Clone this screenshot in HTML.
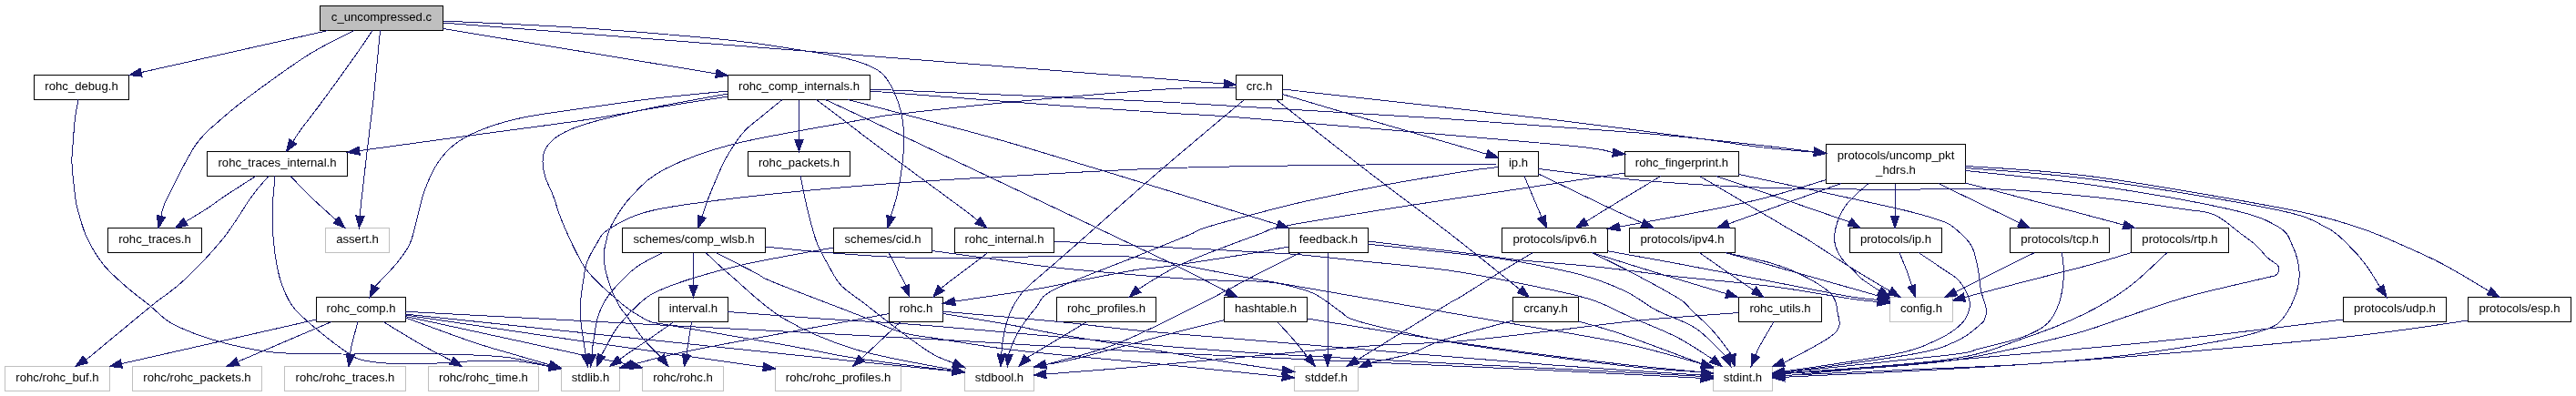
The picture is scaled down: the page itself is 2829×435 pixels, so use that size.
<!DOCTYPE html><html><head><meta charset="utf-8"><title>c_uncompressed.c include graph</title>
<style>html,body{margin:0;padding:0;background:#fff}svg{display:block;will-change:transform;opacity:0.999}text{font-family:"Liberation Sans",sans-serif;font-size:13.15px;fill:#000}</style></head><body>
<svg width="2829" height="435" viewBox="0 0 2829 435">
<g shape-rendering="crispEdges">
<rect x="351.5" y="6.5" width="135.0" height="27.0" fill="#bfbfbf" stroke="#000" stroke-width="1"/>
<rect x="37.5" y="82.5" width="104.0" height="27.0" fill="#fff" stroke="#000" stroke-width="1"/>
<rect x="799.5" y="82.5" width="156.0" height="27.0" fill="#fff" stroke="#000" stroke-width="1"/>
<rect x="1357.5" y="82.5" width="51.0" height="27.0" fill="#fff" stroke="#000" stroke-width="1"/>
<rect x="227.5" y="166.5" width="154.0" height="27.0" fill="#fff" stroke="#000" stroke-width="1"/>
<rect x="821.5" y="166.5" width="112.0" height="27.0" fill="#fff" stroke="#000" stroke-width="1"/>
<rect x="1645.5" y="166.5" width="44.0" height="27.0" fill="#fff" stroke="#000" stroke-width="1"/>
<rect x="1784.5" y="166.5" width="125.0" height="27.0" fill="#fff" stroke="#000" stroke-width="1"/>
<rect x="2005.5" y="158.5" width="153.0" height="43.0" fill="#fff" stroke="#000" stroke-width="1"/>
<rect x="118.5" y="250.5" width="103.0" height="27.0" fill="#fff" stroke="#000" stroke-width="1"/>
<rect x="357.5" y="250.5" width="70.0" height="27.0" fill="#fff" stroke="#bfbfbf" stroke-width="1"/>
<rect x="683.5" y="250.5" width="157.0" height="27.0" fill="#fff" stroke="#000" stroke-width="1"/>
<rect x="915.5" y="250.5" width="108.0" height="27.0" fill="#fff" stroke="#000" stroke-width="1"/>
<rect x="1048.5" y="250.5" width="109.0" height="27.0" fill="#fff" stroke="#000" stroke-width="1"/>
<rect x="1415.5" y="250.5" width="87.0" height="27.0" fill="#fff" stroke="#000" stroke-width="1"/>
<rect x="1649.5" y="250.5" width="116.0" height="27.0" fill="#fff" stroke="#000" stroke-width="1"/>
<rect x="1789.5" y="250.5" width="116.0" height="27.0" fill="#fff" stroke="#000" stroke-width="1"/>
<rect x="2031.5" y="250.5" width="101.0" height="27.0" fill="#fff" stroke="#000" stroke-width="1"/>
<rect x="2207.5" y="250.5" width="109.0" height="27.0" fill="#fff" stroke="#000" stroke-width="1"/>
<rect x="2340.5" y="250.5" width="107.0" height="27.0" fill="#fff" stroke="#000" stroke-width="1"/>
<rect x="347.5" y="326.5" width="98.0" height="27.0" fill="#fff" stroke="#000" stroke-width="1"/>
<rect x="723.5" y="326.5" width="76.0" height="27.0" fill="#fff" stroke="#000" stroke-width="1"/>
<rect x="976.5" y="326.5" width="59.0" height="27.0" fill="#fff" stroke="#000" stroke-width="1"/>
<rect x="1160.5" y="326.5" width="109.0" height="27.0" fill="#fff" stroke="#000" stroke-width="1"/>
<rect x="1344.5" y="326.5" width="91.0" height="27.0" fill="#fff" stroke="#000" stroke-width="1"/>
<rect x="1661.5" y="326.5" width="72.0" height="27.0" fill="#fff" stroke="#000" stroke-width="1"/>
<rect x="1909.5" y="326.5" width="91.0" height="27.0" fill="#fff" stroke="#000" stroke-width="1"/>
<rect x="2075.5" y="326.5" width="69.0" height="27.0" fill="#fff" stroke="#bfbfbf" stroke-width="1"/>
<rect x="2573.5" y="326.5" width="113.0" height="27.0" fill="#fff" stroke="#000" stroke-width="1"/>
<rect x="2710.5" y="326.5" width="113.0" height="27.0" fill="#fff" stroke="#000" stroke-width="1"/>
<rect x="5.5" y="402.5" width="115.0" height="27.0" fill="#fff" stroke="#bfbfbf" stroke-width="1"/>
<rect x="145.5" y="402.5" width="142.0" height="27.0" fill="#fff" stroke="#bfbfbf" stroke-width="1"/>
<rect x="312.5" y="402.5" width="133.0" height="27.0" fill="#fff" stroke="#bfbfbf" stroke-width="1"/>
<rect x="470.5" y="402.5" width="121.0" height="27.0" fill="#fff" stroke="#bfbfbf" stroke-width="1"/>
<rect x="616.5" y="402.5" width="64.0" height="27.0" fill="#fff" stroke="#bfbfbf" stroke-width="1"/>
<rect x="705.5" y="402.5" width="89.0" height="27.0" fill="#fff" stroke="#bfbfbf" stroke-width="1"/>
<rect x="851.5" y="402.5" width="138.0" height="27.0" fill="#fff" stroke="#bfbfbf" stroke-width="1"/>
<rect x="1059.5" y="402.5" width="76.0" height="27.0" fill="#fff" stroke="#bfbfbf" stroke-width="1"/>
<rect x="1421.5" y="402.5" width="70.0" height="27.0" fill="#fff" stroke="#bfbfbf" stroke-width="1"/>
<rect x="1881.5" y="402.5" width="65.0" height="27.0" fill="#fff" stroke="#bfbfbf" stroke-width="1"/>
</g>
<g text-anchor="middle">
<text x="419.0" y="22.5">c_uncompressed.c</text>
<text x="89.5" y="98.5">rohc_debug.h</text>
<text x="877.5" y="98.5">rohc_comp_internals.h</text>
<text x="1383.0" y="98.5">crc.h</text>
<text x="304.5" y="182.5">rohc_traces_internal.h</text>
<text x="877.5" y="182.5">rohc_packets.h</text>
<text x="1667.5" y="182.5">ip.h</text>
<text x="1847.0" y="182.5">rohc_fingerprint.h</text>
<text x="2082.0" y="174.5">protocols/uncomp_pkt</text>
<text x="2082.0" y="190.5">_hdrs.h</text>
<text x="170.0" y="266.5">rohc_traces.h</text>
<text x="392.5" y="266.5">assert.h</text>
<text x="762.0" y="266.5">schemes/comp_wlsb.h</text>
<text x="969.5" y="266.5">schemes/cid.h</text>
<text x="1103.0" y="266.5">rohc_internal.h</text>
<text x="1459.0" y="266.5">feedback.h</text>
<text x="1707.5" y="266.5">protocols/ipv6.h</text>
<text x="1847.5" y="266.5">protocols/ipv4.h</text>
<text x="2082.0" y="266.5">protocols/ip.h</text>
<text x="2262.0" y="266.5">protocols/tcp.h</text>
<text x="2394.0" y="266.5">protocols/rtp.h</text>
<text x="396.5" y="342.5">rohc_comp.h</text>
<text x="761.5" y="342.5">interval.h</text>
<text x="1006.0" y="342.5">rohc.h</text>
<text x="1215.0" y="342.5">rohc_profiles.h</text>
<text x="1390.0" y="342.5">hashtable.h</text>
<text x="1697.5" y="342.5">crcany.h</text>
<text x="1955.0" y="342.5">rohc_utils.h</text>
<text x="2110.0" y="342.5">config.h</text>
<text x="2630.0" y="342.5">protocols/udp.h</text>
<text x="2767.0" y="342.5">protocols/esp.h</text>
<text x="63.0" y="418.5">rohc/rohc_buf.h</text>
<text x="216.5" y="418.5">rohc/rohc_packets.h</text>
<text x="379.0" y="418.5">rohc/rohc_traces.h</text>
<text x="531.0" y="418.5">rohc/rohc_time.h</text>
<text x="648.5" y="418.5">stdlib.h</text>
<text x="750.0" y="418.5">rohc/rohc.h</text>
<text x="920.5" y="418.5">rohc/rohc_profiles.h</text>
<text x="1097.5" y="418.5">stdbool.h</text>
<text x="1456.5" y="418.5">stddef.h</text>
<text x="1914.0" y="418.5">stdint.h</text>
</g>
<g fill="none" stroke="#191970" stroke-width="1" shape-rendering="crispEdges">
<path d="M360.50,33.50 L154.98,79.59"/>
<path d="M389.00,33.50 C380.67,37.92 358.00,48.08 339.00,60.00 C320.00,71.92 290.83,93.33 275.00,105.00 C259.17,116.67 254.00,121.00 244.00,130.00 C234.00,139.00 224.83,144.83 215.00,159.00 C205.17,173.17 191.00,203.33 185.00,215.00 C179.00,226.67 180.33,225.24 179.00,229.00 C177.67,232.76 177.34,236.12 177.01,237.55"/>
<path d="M409.00,33.50 C406.00,37.92 400.00,47.25 391.00,60.00 C382.00,72.75 365.17,96.17 355.00,110.00 C344.83,123.83 335.53,135.43 330.00,143.00 C324.47,150.57 323.19,153.33 321.82,155.40"/>
<path d="M417.50,33.50 C417.08,37.92 416.25,47.25 415.00,60.00 C413.75,72.75 411.25,98.33 410.00,110.00 C408.75,121.67 408.50,121.83 407.50,130.00 C406.50,138.17 405.67,144.83 404.00,159.00 C402.33,173.17 398.83,203.33 397.50,215.00 C396.17,226.67 396.35,225.29 396.00,229.00 C395.65,232.71 395.52,235.86 395.43,237.23"/>
<path d="M486.50,31.50 L786.38,80.84"/>
<path d="M486.50,23.00 C512.75,24.33 591.75,27.50 644.00,31.00 C696.25,34.50 762.50,40.25 800.00,44.00 C837.50,47.75 849.00,50.50 869.00,53.50 C889.00,56.50 906.25,59.08 920.00,62.00 C933.75,64.92 943.33,67.83 951.50,71.00 C959.67,74.17 964.00,76.17 969.00,81.00 C974.00,85.83 978.00,92.67 981.50,100.00 C985.00,107.33 988.12,115.83 990.00,125.00 C991.88,134.17 992.75,144.58 992.75,155.00 C992.75,165.42 991.29,177.50 990.00,187.50 C988.71,197.50 986.83,207.08 985.00,215.00 C983.17,222.92 980.11,231.23 979.00,235.00 C977.89,238.77 978.44,237.18 978.32,237.62"/>
<path d="M486.50,25.00 L1344.24,91.96"/>
<path d="M86.00,109.50 C85.42,112.92 83.50,121.75 82.50,130.00 C81.50,138.25 80.58,150.67 80.00,159.00 C79.42,167.33 78.58,170.67 79.00,180.00 C79.42,189.33 81.50,206.83 82.50,215.00 C83.50,223.17 82.92,221.50 85.00,229.00 C87.08,236.50 90.33,249.83 95.00,260.00 C99.67,270.17 105.92,281.00 113.00,290.00 C120.08,299.00 128.83,306.33 137.50,314.00 C146.17,321.67 156.25,329.00 165.00,336.00 C173.75,343.00 177.50,349.50 190.00,356.00 C202.50,362.50 221.67,369.83 240.00,375.00 C258.33,380.17 277.50,384.67 300.00,387.00 C322.50,389.33 350.33,388.75 375.00,389.00 C399.67,389.25 423.83,388.33 448.00,388.50 C472.17,388.67 501.25,389.25 520.00,390.00 C538.75,390.75 546.58,390.96 560.50,393.00 C574.42,395.04 596.33,400.68 603.50,402.21"/>
<path d="M799.50,106.00 C786.25,108.08 745.92,114.25 720.00,118.50 C694.08,122.75 676.83,126.58 644.00,131.50 C611.17,136.42 564.56,142.32 523.00,148.00 C481.44,153.68 416.05,162.63 394.66,165.55"/>
<path d="M799.50,100.00 C786.25,101.33 745.92,104.92 720.00,108.00 C694.08,111.08 668.17,115.00 644.00,118.50 C619.83,122.00 594.00,125.08 575.00,129.00 C556.00,132.92 542.50,137.17 530.00,142.00 C517.50,146.83 508.33,151.67 500.00,158.00 C491.67,164.33 485.67,171.33 480.00,180.00 C474.33,188.67 469.67,200.00 466.00,210.00 C462.33,220.00 460.67,230.33 458.00,240.00 C455.33,249.67 453.83,259.67 450.00,268.00 C446.17,276.33 441.25,282.33 435.00,290.00 C428.75,297.67 416.31,309.88 412.50,314.00 C408.69,318.12 412.20,314.58 412.14,314.70"/>
<path d="M859.00,109.50 C854.83,112.92 840.67,124.50 834.00,130.00 C827.33,135.50 823.58,137.71 819.00,142.50 C814.42,147.29 810.67,152.50 806.50,158.75 C802.33,165.00 798.58,170.62 794.00,180.00 C789.42,189.38 782.33,206.83 779.00,215.00 C775.67,223.17 775.35,225.18 774.00,229.00 C772.65,232.82 771.40,236.45 770.88,237.94"/>
<path d="M877.50,109.50 L877.50,153.20"/>
<path d="M896.50,109.50 C901.50,113.25 915.67,123.79 926.50,132.00 C937.33,140.21 939.83,142.62 961.50,158.75 C983.17,174.88 1037.82,214.83 1056.50,228.75 C1075.18,242.67 1070.72,240.00 1073.57,242.25"/>
<path d="M906.50,109.50 C914.00,113.00 934.00,122.29 951.50,130.50 C969.00,138.71 977.33,142.58 1011.50,158.75 C1045.67,174.92 1110.42,205.62 1156.50,227.50 C1202.58,249.38 1256.22,274.51 1288.00,290.00 C1319.78,305.49 1337.31,315.35 1347.17,320.42"/>
<path d="M931.50,109.50 C944.83,113.00 980.67,122.25 1011.50,130.50 C1042.33,138.75 1070.42,145.58 1116.50,159.00 C1162.58,172.42 1240.28,196.41 1288.00,211.00 C1335.72,225.59 1383.66,240.64 1402.80,246.56"/>
<path d="M955.50,100.00 C990.25,102.67 1108.58,111.92 1164.00,116.00 C1219.42,120.08 1253.17,122.17 1288.00,124.50 C1322.83,126.83 1302.58,124.29 1373.00,130.00 C1443.42,135.71 1644.11,152.49 1710.50,158.75 C1776.89,165.01 1761.20,166.11 1771.34,167.59"/>
<path d="M955.50,98.00 C1010.92,100.42 1183.83,107.17 1288.00,112.50 C1392.17,117.83 1495.17,124.42 1580.50,130.00 C1665.83,135.58 1741.42,141.08 1800.00,146.00 C1858.58,150.92 1899.95,156.02 1932.00,159.50 C1964.05,162.98 1982.25,165.65 1992.30,166.88"/>
<path d="M1408.50,98.00 C1455.92,103.33 1619.42,121.33 1693.00,130.00 C1766.58,138.67 1810.17,144.75 1850.00,150.00 C1889.83,155.25 1908.29,158.63 1932.00,161.50 C1955.71,164.37 1982.22,166.28 1992.26,167.24"/>
<path d="M1408.50,103.50 C1423.42,107.92 1466.62,120.79 1498.00,130.00 C1529.38,139.21 1574.29,152.21 1596.75,158.75 C1619.21,165.29 1626.74,167.52 1632.73,169.27"/>
<path d="M1357.50,96.50 C1345.92,96.67 1327.75,95.04 1288.00,97.50 C1248.25,99.96 1168.83,106.67 1119.00,111.25 C1069.17,115.83 1017.17,121.71 989.00,125.00 C960.83,128.29 980.00,125.58 950.00,131.00 C920.00,136.42 845.42,148.50 809.00,157.50 C772.58,166.50 750.67,175.42 731.50,185.00 C712.33,194.58 704.00,204.58 694.00,215.00 C684.00,225.42 676.40,238.33 671.50,247.50 C666.60,256.67 666.02,264.58 664.60,270.00 C663.18,275.42 663.00,275.83 663.00,280.00 C663.00,284.17 663.65,290.00 664.60,295.00 C665.55,300.00 667.35,305.67 668.70,310.00 C670.05,314.33 670.68,316.45 672.70,321.00 C674.72,325.55 678.15,332.88 680.80,337.30 C683.45,341.72 684.40,341.75 688.60,347.50 C692.80,353.25 699.82,364.36 706.00,371.80 C712.18,379.24 722.41,388.73 725.69,392.11"/>
<path d="M1645.50,180.00 C1621.25,180.17 1559.58,180.25 1500.00,181.00 C1440.42,181.75 1354.67,182.33 1288.00,184.50 C1221.33,186.67 1154.67,190.92 1100.00,194.00 C1045.33,197.08 1006.33,199.33 960.00,203.00 C913.67,206.67 862.42,211.33 822.00,216.00 C781.58,220.67 743.00,225.08 717.50,231.00 C692.00,236.92 679.58,245.00 669.00,251.50 C658.42,258.00 658.10,263.75 654.00,270.00 C649.90,276.25 646.67,282.33 644.40,289.00 C642.13,295.67 641.48,303.50 640.40,310.00 C639.32,316.50 638.40,321.67 637.90,328.00 C637.40,334.33 636.88,340.00 637.40,348.00 C637.92,356.00 640.02,369.10 641.00,376.00 C641.98,382.90 642.89,387.16 643.27,389.39"/>
<path d="M879.00,193.50 C880.25,199.38 883.58,216.83 886.50,228.75 C889.42,240.67 892.75,254.79 896.50,265.00 C900.25,275.21 904.42,281.88 909.00,290.00 C913.58,298.12 916.92,306.25 924.00,313.75 C931.08,321.25 940.50,326.46 951.50,335.00 C962.50,343.54 977.92,356.04 990.00,365.00 C1002.08,373.96 1014.45,383.12 1024.00,388.75 C1033.55,394.38 1043.40,397.08 1047.28,398.75"/>
<path d="M281.00,193.50 C275.42,197.08 256.42,209.08 247.50,215.00 C238.58,220.92 234.78,224.24 227.50,229.00 C220.22,233.76 207.78,241.12 203.83,243.54"/>
<path d="M295.00,193.50 C292.00,197.08 285.33,203.58 277.00,215.00 C268.67,226.42 257.53,246.50 245.00,262.00 C232.47,277.50 215.13,295.50 201.80,308.00 C188.47,320.50 181.55,323.54 165.00,337.00 C148.45,350.46 114.36,379.11 102.50,388.75 C90.64,398.39 95.31,393.82 93.87,394.84"/>
<path d="M302.00,193.50 C301.54,199.42 299.58,217.92 299.25,229.00 C298.92,240.08 299.25,249.83 300.00,260.00 C300.75,270.17 302.08,281.04 303.75,290.00 C305.42,298.96 306.88,305.75 310.00,313.75 C313.12,321.75 315.83,329.71 322.50,338.00 C329.17,346.29 340.00,355.17 350.00,363.50 C360.00,371.83 374.17,382.58 382.50,388.00 C390.83,393.42 390.83,394.04 400.00,396.00 C409.17,397.96 424.17,399.25 437.50,399.75 C450.83,400.25 465.42,399.54 480.00,399.00 C494.58,398.46 510.00,396.83 525.00,396.50 C540.00,396.17 556.93,395.96 570.00,397.00 C583.07,398.04 597.83,401.79 603.39,402.74"/>
<path d="M319.00,193.50 C322.50,197.08 334.00,209.08 340.00,215.00 C346.00,220.92 350.15,224.56 355.00,229.00 C359.85,233.44 366.74,239.52 369.09,241.63"/>
<path d="M347.50,351.00 C329.17,355.17 273.17,367.91 237.50,376.00 C201.83,384.09 150.81,395.64 133.47,399.56"/>
<path d="M364.00,353.50 L261.24,397.29"/>
<path d="M393.00,353.50 C391.83,357.92 387.37,374.03 386.00,380.00 C384.63,385.97 384.96,387.76 384.76,389.32"/>
<path d="M421.00,353.50 C427.92,357.67 450.04,371.38 462.50,378.50 C474.96,385.62 490.22,393.28 495.76,396.24"/>
<path d="M445.50,349.00 C457.72,353.43 498.05,368.60 518.80,375.60 C539.55,382.60 555.85,386.80 570.00,391.00 C584.15,395.20 598.11,399.16 603.73,400.79"/>
<path d="M445.50,347.60 C466.97,352.27 541.88,368.53 574.30,375.60 C606.72,382.67 620.55,385.85 640.00,390.00 C659.45,394.15 682.24,398.69 691.00,400.50 C699.76,402.31 692.31,400.82 692.57,400.88"/>
<path d="M445.50,346.10 C478.75,351.02 579.53,366.10 645.00,375.60 C710.47,385.10 806.11,398.54 838.33,403.13"/>
<path d="M445.50,345.10 C487.92,349.57 617.58,363.25 700.00,371.90 C782.42,380.55 882.29,391.04 940.00,397.00 C997.71,402.96 1028.56,405.89 1046.27,407.67"/>
<path d="M445.50,342.30 C487.92,344.53 602.58,350.58 700.00,355.70 C797.42,360.82 932.00,367.62 1030.00,373.00 C1128.00,378.38 1176.33,382.38 1288.00,388.00 C1399.67,393.62 1603.30,402.15 1700.00,406.70 C1796.70,411.25 1840.18,413.88 1868.22,415.32"/>
<path d="M799.50,103.00 C784.58,105.78 735.92,114.20 710.00,119.70 C684.08,125.20 659.83,131.28 644.00,136.00 C628.17,140.72 622.33,143.67 615.00,148.00 C607.67,152.33 603.17,157.17 600.00,162.00 C596.83,166.83 596.17,171.50 596.00,177.00 C595.83,182.50 597.08,188.67 599.00,195.00 C600.92,201.33 604.67,207.50 607.50,215.00 C610.33,222.50 612.37,230.83 616.00,240.00 C619.63,249.17 624.90,260.97 629.30,270.00 C633.70,279.03 638.20,287.87 642.40,294.20 C646.60,300.53 649.45,302.87 654.50,308.00 C659.55,313.13 666.62,319.67 672.70,325.00 C678.78,330.33 685.95,336.27 691.00,340.00 C696.05,343.73 699.00,345.13 703.00,347.40 C707.00,349.67 709.50,351.93 715.00,353.60 C720.50,355.27 711.83,353.23 736.00,357.40 C760.17,361.57 826.00,372.58 860.00,378.60 C894.00,384.62 908.95,388.72 940.00,393.50 C971.05,398.28 1028.59,404.99 1046.31,407.29"/>
<path d="M727.80,277.50 C723.33,279.92 708.50,286.92 701.00,292.00 C693.50,297.08 688.68,301.97 682.80,308.00 C676.92,314.03 670.07,321.53 665.70,328.20 C661.33,334.87 658.97,340.03 656.60,348.00 C654.23,355.97 652.60,369.12 651.50,376.00 C650.40,382.88 650.25,387.07 650.00,389.28"/>
<path d="M761.50,277.50 L761.50,313.20"/>
<path d="M775.00,277.50 C779.80,281.88 789.53,291.73 803.80,303.80 C818.07,315.87 837.90,336.53 860.60,349.90 C883.30,363.27 909.02,374.60 940.00,384.00 C970.98,393.40 1028.73,402.56 1046.48,406.28"/>
<path d="M786.00,277.50 C793.38,281.25 819.72,294.58 830.30,300.00 C840.88,305.42 829.93,302.00 849.50,310.00 C869.07,318.00 924.28,338.83 947.70,348.00 C971.12,357.17 976.28,361.00 990.00,365.00 C1003.72,369.00 1008.33,368.62 1030.00,372.00 C1051.67,375.38 1079.42,380.63 1120.00,385.30 C1160.58,389.97 1225.46,395.27 1273.50,400.00 C1321.54,404.73 1385.81,411.38 1408.27,413.66"/>
<path d="M840.50,271.00 C852.83,272.17 884.58,275.87 914.50,278.00 C944.42,280.13 979.75,283.22 1020.00,283.80 C1060.25,284.38 1120.67,281.88 1156.00,281.50 C1191.33,281.12 1211.83,280.58 1232.00,281.50 C1252.17,282.42 1261.83,284.58 1277.00,287.00 C1292.17,289.42 1304.17,292.42 1323.00,296.00 C1341.83,299.58 1360.33,303.20 1390.00,308.50 C1419.67,313.80 1459.33,320.55 1501.00,327.80 C1542.67,335.05 1593.50,343.88 1640.00,352.00 C1686.50,360.12 1741.89,368.56 1780.00,376.50 C1818.11,384.44 1853.86,395.78 1868.63,399.64"/>
<path d="M915.50,272.00 C906.25,273.67 877.25,278.72 860.00,282.00 C842.75,285.28 829.75,287.37 812.00,291.70 C794.25,296.03 769.50,302.78 753.50,308.00 C737.50,313.22 725.75,317.62 716.00,323.00 C706.25,328.38 699.68,336.13 695.00,340.30 C690.32,344.47 691.10,344.27 687.90,348.00 C684.70,351.73 680.37,355.66 675.80,362.70 C671.23,369.74 663.04,385.66 660.49,390.26"/>
<path d="M976.00,277.50 C977.50,280.42 982.17,289.58 985.00,295.00 C987.83,300.42 991.42,306.83 993.00,310.00 C994.58,313.17 994.21,313.33 994.45,314.00"/>
<path d="M1023.50,275.50 C1033.75,276.88 1062.92,280.78 1085.00,283.80 C1107.08,286.82 1129.00,290.57 1156.00,293.60 C1183.00,296.63 1219.17,299.68 1247.00,302.00 C1274.83,304.32 1299.17,306.25 1323.00,307.50 C1346.83,308.75 1373.83,308.25 1390.00,309.50 C1406.17,310.75 1410.75,312.62 1420.00,315.00 C1429.25,317.38 1436.67,319.13 1445.50,323.80 C1454.33,328.47 1466.08,338.38 1473.00,343.00 C1479.92,347.62 1475.37,347.77 1487.00,351.50 C1498.63,355.23 1521.97,360.82 1542.80,365.40 C1563.63,369.98 1572.47,372.98 1612.00,379.00 C1651.53,385.02 1737.29,396.52 1780.00,401.50 C1822.71,406.48 1853.54,407.66 1868.25,408.89"/>
<path d="M1085.00,277.50 L1033.44,316.48"/>
<path d="M1157.50,265.00 C1172.42,265.83 1217.67,268.47 1247.00,270.00 C1276.33,271.53 1310.67,273.00 1333.50,274.20 C1356.33,275.40 1368.50,276.28 1384.00,277.20 C1399.50,278.12 1408.83,278.18 1426.50,279.70 C1444.17,281.22 1461.75,283.28 1490.00,286.30 C1518.25,289.32 1560.67,292.52 1596.00,297.80 C1631.33,303.08 1676.33,312.63 1702.00,318.00 C1727.67,323.37 1735.33,325.00 1750.00,330.00 C1764.67,335.00 1774.77,341.28 1790.00,348.00 C1805.23,354.72 1826.40,362.63 1841.40,370.30 C1856.40,377.97 1873.49,389.99 1880.00,394.00 C1886.51,398.01 1880.40,394.31 1880.48,394.37"/>
<path d="M1415.50,271.00 C1409.75,272.03 1395.17,274.82 1381.00,277.20 C1366.83,279.58 1347.33,282.70 1330.50,285.30 C1313.67,287.90 1293.92,290.92 1280.00,292.80 C1266.08,294.68 1262.55,294.07 1247.00,296.60 C1231.45,299.13 1205.08,304.47 1186.70,308.00 C1168.32,311.53 1159.72,313.95 1136.70,317.80 C1113.68,321.65 1063.26,328.87 1048.58,331.08"/>
<path d="M1428.50,277.50 C1421.58,280.92 1406.70,287.92 1387.00,298.00 C1367.30,308.08 1336.97,324.77 1310.30,338.00 C1283.63,351.23 1252.25,367.43 1227.00,377.40 C1201.75,387.37 1171.89,394.02 1158.80,397.80 C1145.71,401.58 1150.20,399.72 1148.48,400.10"/>
<path d="M1458.00,277.50 L1458.00,389.20"/>
<path d="M1502.50,265.00 C1522.50,267.42 1595.13,276.08 1622.50,279.50 C1649.87,282.92 1644.62,283.20 1666.70,285.50 C1688.78,287.80 1725.55,290.22 1755.00,293.30 C1784.45,296.38 1811.73,300.47 1843.40,304.00 C1875.07,307.53 1913.90,310.53 1945.00,314.50 C1976.10,318.47 2010.45,324.97 2030.00,327.80 C2049.55,330.63 2056.91,330.87 2062.29,331.49"/>
<path d="M1502.50,268.20 C1522.50,270.33 1595.13,277.83 1622.50,281.00 C1649.87,284.17 1647.57,283.67 1666.70,287.20 C1685.83,290.73 1717.58,296.73 1737.30,302.20 C1757.02,307.67 1771.30,313.53 1785.00,320.00 C1798.70,326.47 1806.73,334.30 1819.50,341.00 C1832.27,347.70 1849.02,351.93 1861.60,360.20 C1874.18,368.47 1889.41,385.57 1894.97,390.64"/>
<path d="M740.00,353.50 C735.83,356.42 723.50,365.12 715.00,371.00 C706.50,376.88 694.74,384.79 689.00,388.75 C683.26,392.71 681.94,393.78 680.53,394.78"/>
<path d="M759.50,353.50 C758.58,359.38 754.94,382.76 754.00,388.75 C753.06,394.74 753.90,389.30 753.88,389.41"/>
<path d="M799.50,342.50 C816.42,343.75 862.58,347.33 901.00,350.00 C939.42,352.67 965.50,353.33 1030.00,358.50 C1094.50,363.67 1223.00,375.70 1288.00,381.00 C1353.00,386.30 1351.33,386.37 1420.00,390.30 C1488.67,394.23 1625.30,400.76 1700.00,404.60 C1774.70,408.44 1840.18,411.86 1868.22,413.31"/>
<path d="M976.50,344.50 C972.33,345.28 970.92,345.62 951.50,349.20 C932.08,352.78 892.92,359.87 860.00,366.00 C827.08,372.13 781.67,380.25 754.00,386.00 C726.33,391.75 704.10,398.06 694.00,400.50 C683.90,402.94 693.48,400.64 693.37,400.66"/>
<path d="M989.00,353.50 C982.75,359.38 958.62,382.08 951.50,388.75 C944.38,395.42 947.17,392.72 946.30,393.51"/>
<path d="M1035.50,342.20 C1056.30,344.03 1123.38,349.60 1160.30,353.20 C1197.22,356.80 1213.72,359.77 1257.00,363.80 C1300.28,367.83 1346.17,371.27 1420.00,377.40 C1493.83,383.53 1625.29,394.82 1700.00,400.60 C1774.71,406.38 1840.19,410.18 1868.23,412.09"/>
<path d="M1035.50,344.50 C1047.22,346.45 1085.05,352.48 1105.80,356.20 C1126.55,359.92 1139.80,363.17 1160.00,366.80 C1180.20,370.43 1205.73,374.47 1227.00,378.00 C1248.27,381.53 1267.43,384.70 1287.60,388.00 C1307.77,391.30 1327.88,394.70 1348.00,397.80 C1368.12,400.90 1398.28,405.12 1408.34,406.58"/>
<path d="M1193.60,353.50 L1128.12,392.81"/>
<path d="M1344.50,351.60 C1335.02,354.00 1314.77,358.93 1287.60,366.00 C1260.43,373.07 1204.67,388.26 1181.50,394.00 C1158.33,399.74 1154.04,399.37 1148.55,400.45"/>
<path d="M1402.70,353.50 C1405.63,356.72 1414.75,366.35 1420.30,372.80 C1425.85,379.25 1433.40,388.94 1436.02,392.17"/>
<path d="M1435.50,350.00 C1460.25,353.97 1541.92,367.34 1584.00,373.80 C1626.08,380.26 1655.33,384.38 1688.00,388.75 C1720.67,393.12 1749.96,396.68 1780.00,400.00 C1810.04,403.32 1853.55,407.25 1868.26,408.70"/>
<path d="M1366.50,109.50 C1350.98,122.58 1302.15,163.25 1273.40,188.00 C1244.65,212.75 1213.30,241.00 1194.00,258.00 C1174.70,275.00 1168.93,280.03 1157.60,290.00 C1146.27,299.97 1133.63,309.80 1126.00,317.80 C1118.37,325.80 1115.47,330.97 1111.80,338.00 C1108.13,345.03 1105.88,353.00 1104.00,360.00 C1102.12,367.00 1101.19,375.13 1100.50,380.00 C1099.81,384.87 1099.99,387.69 1099.88,389.23"/>
<path d="M1401.50,109.50 C1418.20,122.58 1469.62,163.25 1501.70,188.00 C1533.78,212.75 1566.08,236.32 1594.00,258.00 C1621.92,279.68 1656.67,308.06 1669.21,318.08"/>
<path d="M1661.50,352.00 C1648.58,355.63 1602.92,367.68 1584.00,373.80 C1565.08,379.93 1561.20,384.64 1548.00,388.75 C1534.80,392.86 1512.00,396.82 1504.80,398.44"/>
<path d="M1733.50,353.00 C1741.25,355.30 1757.43,359.03 1780.00,366.80 C1802.57,374.57 1854.11,394.17 1868.93,399.64"/>
<path d="M1674.00,193.50 C1676.00,198.25 1682.81,214.53 1686.00,222.00 C1689.19,229.47 1691.96,235.60 1693.16,238.32"/>
<path d="M1689.50,191.00 C1702.17,197.08 1746.43,218.50 1765.50,227.50 C1784.57,236.50 1797.50,242.07 1803.90,244.99"/>
<path d="M1645.50,183.50 C1639.72,184.25 1631.38,184.75 1610.80,188.00 C1590.22,191.25 1551.63,197.45 1522.00,203.00 C1492.37,208.55 1457.93,215.72 1433.00,221.30 C1408.07,226.88 1390.90,231.62 1372.40,236.50 C1353.90,241.38 1333.07,247.02 1322.00,250.60 C1310.93,254.18 1318.50,252.77 1306.00,258.00 C1293.50,263.23 1271.67,272.00 1247.00,282.00 C1222.33,292.00 1176.23,308.67 1158.00,318.00 C1139.77,327.33 1144.28,330.12 1137.60,338.00 C1130.92,345.88 1122.91,356.76 1117.90,365.30 C1112.89,373.84 1109.28,385.25 1107.56,389.24"/>
<path d="M1689.50,185.50 C1707.92,187.58 1759.58,194.58 1800.00,198.00 C1840.42,201.42 1885.88,204.28 1932.00,206.00 C1978.12,207.72 2034.53,208.05 2076.70,208.30 C2118.87,208.55 2147.78,206.13 2185.00,207.50 C2222.22,208.87 2264.25,212.75 2300.00,216.50 C2335.75,220.25 2377.50,226.75 2399.50,230.00 C2421.50,233.25 2421.58,231.42 2432.00,236.00 C2442.42,240.58 2454.28,251.83 2462.00,257.50 C2469.72,263.17 2473.72,265.83 2478.30,270.00 C2482.88,274.17 2485.68,278.95 2489.50,282.50 C2493.32,286.05 2498.98,288.88 2501.20,291.30 C2503.42,293.72 2503.17,295.13 2502.80,297.00 C2502.43,298.87 2502.00,301.00 2499.00,302.50 C2496.00,304.00 2500.85,302.12 2484.80,306.00 C2468.75,309.88 2427.33,318.93 2402.70,325.80 C2378.07,332.67 2358.88,340.08 2337.00,347.20 C2315.12,354.32 2304.23,360.30 2271.40,368.50 C2238.57,376.70 2191.95,389.39 2140.00,396.40 C2088.05,403.41 1989.77,408.18 1959.72,410.53"/>
<path d="M1784.50,190.00 C1762.15,193.37 1689.48,204.30 1650.40,210.20 C1611.32,216.10 1589.27,219.17 1550.00,225.40 C1510.73,231.63 1443.03,242.17 1414.80,247.60 C1386.57,253.03 1400.23,250.83 1380.60,258.00 C1360.97,265.17 1318.76,280.64 1297.00,290.60 C1275.24,300.56 1257.86,313.24 1250.03,317.77"/>
<path d="M1823.80,193.50 C1814.08,199.38 1779.17,220.42 1765.50,228.75 C1751.83,237.08 1745.75,241.03 1741.80,243.48"/>
<path d="M1866.70,193.50 C1882.92,203.08 1944.55,239.58 1964.00,251.00 C1983.45,262.42 1971.40,254.50 1983.40,262.00 C1995.40,269.50 2020.64,286.39 2036.00,296.00 C2051.36,305.61 2068.99,315.73 2075.59,319.67"/>
<path d="M1885.00,193.50 L2031.28,243.85"/>
<path d="M1909.50,191.50 C1937.37,197.50 2039.95,219.08 2076.70,227.50 C2113.45,235.92 2118.33,238.12 2130.00,242.00 C2141.67,245.88 2140.87,246.13 2146.70,250.80 C2152.53,255.47 2160.72,262.47 2165.00,270.00 C2169.28,277.53 2170.65,287.88 2172.40,296.00 C2174.15,304.12 2173.98,311.37 2175.50,318.70 C2177.02,326.03 2180.75,334.95 2181.50,340.00 C2182.25,345.05 2181.00,346.37 2180.00,349.00 C2179.00,351.63 2180.50,351.63 2175.50,355.80 C2170.50,359.97 2162.25,368.51 2150.00,374.00 C2137.75,379.49 2133.72,382.91 2102.00,388.75 C2070.28,394.59 1983.38,405.67 1959.66,409.05"/>
<path d="M2005.50,197.50 C1993.25,201.08 1957.92,212.58 1932.00,219.00 C1906.08,225.42 1875.57,230.98 1850.00,236.00 C1824.43,241.02 1790.48,246.92 1778.58,249.10"/>
<path d="M2022.00,201.50 C2007.00,206.88 1952.66,226.33 1932.00,233.75 C1911.34,241.17 1903.68,243.95 1898.01,245.99"/>
<path d="M2052.00,201.50 C2048.33,204.92 2035.58,215.25 2030.00,222.00 C2024.42,228.75 2021.05,234.90 2018.50,242.00 C2015.95,249.10 2014.12,257.77 2014.70,264.60 C2015.28,271.43 2018.45,277.52 2022.00,283.00 C2025.55,288.48 2032.17,293.57 2036.00,297.50 C2039.83,301.43 2040.30,302.93 2045.00,306.60 C2049.70,310.27 2060.99,317.35 2064.19,319.50"/>
<path d="M2081.00,201.50 L2081.00,237.20"/>
<path d="M2128.70,201.50 L2217.64,244.69"/>
<path d="M2158.50,201.00 C2178.05,206.17 2246.86,224.32 2275.80,232.00 C2304.74,239.68 2322.76,244.55 2332.15,247.06"/>
<path d="M2158.50,182.40 C2182.08,184.37 2240.92,186.27 2300.00,194.20 C2359.08,202.13 2464.67,220.70 2513.00,230.00 C2561.33,239.30 2569.25,243.50 2590.00,250.00 C2610.75,256.50 2622.08,262.33 2637.50,269.00 C2652.92,275.67 2666.50,281.53 2682.50,290.00 C2698.50,298.47 2725.01,314.83 2733.52,319.79"/>
<path d="M2158.50,184.50 C2182.08,186.63 2243.42,189.72 2300.00,197.30 C2356.58,204.88 2455.50,221.22 2498.00,230.00 C2540.50,238.78 2541.54,243.50 2555.00,250.00 C2568.46,256.50 2571.67,262.33 2578.75,269.00 C2585.83,275.67 2591.66,282.28 2597.50,290.00 C2603.34,297.72 2611.08,311.10 2613.80,315.32"/>
<path d="M2158.50,187.40 C2182.08,190.10 2251.58,196.50 2300.00,203.60 C2348.42,210.70 2415.25,222.35 2449.00,230.00 C2482.75,237.65 2491.05,242.83 2502.50,249.50 C2513.95,256.17 2513.97,262.20 2517.70,270.00 C2521.43,277.80 2524.08,288.08 2524.90,296.30 C2525.72,304.52 2525.45,310.55 2522.60,319.30 C2519.75,328.05 2513.55,341.68 2507.80,348.80 C2502.05,355.92 2500.13,357.63 2488.10,362.00 C2476.07,366.37 2460.78,370.33 2435.60,375.00 C2410.42,379.67 2370.93,385.88 2337.00,390.00 C2303.07,394.12 2271.50,397.03 2232.00,399.70 C2192.50,402.37 2145.37,403.88 2100.00,406.00 C2054.63,408.12 1983.16,411.33 1959.79,412.39"/>
<path d="M1683.50,277.50 C1676.87,281.47 1657.40,292.92 1643.70,301.30 C1630.00,309.68 1610.79,322.02 1601.30,327.80 C1591.81,333.58 1605.25,324.71 1586.75,336.00 C1568.25,347.29 1506.40,385.61 1490.33,395.53"/>
<path d="M1748.00,277.50 C1760.30,281.32 1797.14,292.87 1821.80,300.40 C1846.46,307.93 1883.60,318.96 1895.96,322.67"/>
<path d="M1765.50,275.70 C1778.48,278.05 1813.48,284.22 1843.40,289.80 C1873.32,295.38 1913.90,303.25 1945.00,309.20 C1976.10,315.15 2010.45,322.13 2030.00,325.50 C2049.55,328.87 2056.91,328.75 2062.30,329.40"/>
<path d="M1748.00,277.50 C1755.07,281.02 1774.50,290.22 1790.40,298.60 C1806.30,306.98 1832.13,320.73 1843.40,327.80 C1854.67,334.87 1851.60,334.93 1858.00,341.00 C1864.40,347.07 1874.52,356.10 1881.80,364.20 C1889.08,372.30 1898.38,385.38 1901.70,389.62"/>
<path d="M1866.30,277.50 C1871.32,281.02 1886.44,291.69 1896.40,298.60 C1906.36,305.51 1921.10,315.57 1926.04,318.97"/>
<path d="M1894.60,277.50 C1903.00,279.85 1922.43,285.23 1945.00,291.60 C1967.57,297.97 2010.38,310.14 2030.00,315.70 C2049.62,321.26 2057.25,323.43 2062.70,324.97"/>
<path d="M1894.60,277.50 C1903.00,279.42 1930.87,284.85 1945.00,289.00 C1959.13,293.15 1968.57,296.90 1979.40,302.40 C1990.23,307.90 2003.60,315.43 2010.00,322.00 C2016.40,328.57 2016.97,334.47 2017.80,341.80 C2018.63,349.13 2024.20,356.87 2015.00,366.00 C2005.80,375.13 1971.94,391.27 1962.60,396.60 C1953.26,401.93 1959.57,397.73 1958.96,397.96"/>
<path d="M1909.50,343.50 C1891.25,344.92 1834.92,348.58 1800.00,352.00 C1765.08,355.42 1733.33,360.17 1700.00,364.00 C1666.67,367.83 1631.67,372.40 1600.00,375.00 C1568.33,377.60 1545.22,377.10 1510.00,379.60 C1474.78,382.10 1431.37,386.17 1388.70,390.00 C1346.03,393.83 1293.99,399.10 1254.00,402.60 C1214.01,406.10 1166.30,409.61 1148.76,411.02"/>
<path d="M1948.00,353.50 C1945.33,358.08 1935.31,374.88 1932.00,381.00 C1928.69,387.12 1928.78,388.69 1928.14,390.23"/>
<path d="M2086.00,277.50 C2087.50,281.25 2092.75,293.94 2095.00,300.00 C2097.25,306.06 2098.75,311.54 2099.49,313.85"/>
<path d="M2107.00,277.50 C2111.58,280.58 2127.17,290.92 2134.50,296.00 C2141.83,301.08 2146.45,302.95 2151.00,308.00 C2155.55,313.05 2159.87,320.97 2161.80,326.30 C2163.73,331.63 2163.90,335.08 2162.60,340.00 C2161.30,344.92 2159.43,350.47 2154.00,355.80 C2148.57,361.13 2142.00,366.51 2130.00,372.00 C2118.00,377.49 2110.39,382.74 2082.00,388.75 C2053.61,394.76 1980.05,404.83 1959.66,408.05"/>
<path d="M2234.50,277.50 C2228.20,280.58 2211.14,288.83 2196.70,296.00 C2182.26,303.17 2156.02,316.44 2147.88,320.53"/>
<path d="M2264.50,277.50 C2264.82,281.72 2266.90,293.65 2266.40,302.80 C2265.90,311.95 2264.50,323.63 2261.50,332.40 C2258.50,341.17 2254.98,349.13 2248.40,355.40 C2241.82,361.67 2234.60,365.35 2222.00,370.00 C2209.40,374.65 2186.47,379.97 2172.80,383.30 C2159.13,386.63 2175.52,385.71 2140.00,390.00 C2104.48,394.29 1989.71,405.88 1959.66,409.05"/>
<path d="M2340.50,277.50 C2333.25,279.67 2316.25,285.25 2297.00,290.50 C2277.75,295.75 2248.27,302.98 2225.00,309.00 C2201.73,315.02 2168.64,323.70 2157.37,326.64"/>
<path d="M2380.00,277.50 C2372.83,283.92 2352.37,304.67 2337.00,316.00 C2321.63,327.33 2306.97,336.20 2287.80,345.50 C2268.63,354.80 2246.63,363.58 2222.00,371.80 C2197.37,380.02 2183.72,388.42 2140.00,394.80 C2096.28,401.18 1989.71,407.51 1959.66,410.05"/>
<path d="M2573.50,351.00 C2539.58,355.00 2442.25,367.50 2370.00,375.00 C2297.75,382.50 2208.38,389.71 2140.00,396.00 C2071.62,402.29 1989.79,409.97 1959.74,412.77"/>
<path d="M2710.50,352.00 C2685.42,355.30 2639.75,363.85 2560.00,371.80 C2480.25,379.75 2332.04,392.62 2232.00,399.70 C2131.96,406.78 2005.15,411.86 1959.78,414.29"/>
</g>
<g fill="#191970" stroke="#191970" stroke-width="1" shape-rendering="crispEdges">
<polygon points="142.00,82.50 153.95,75.00 156.01,84.18"/>
<polygon points="174.00,250.50 172.43,236.48 181.59,238.61"/>
<polygon points="314.50,166.50 317.90,152.81 325.75,157.99"/>
<polygon points="394.50,250.50 390.74,236.91 400.11,237.56"/>
<polygon points="799.50,83.00 785.61,85.48 787.14,76.20"/>
<polygon points="975.00,250.50 973.77,236.45 982.87,238.80"/>
<polygon points="1357.50,93.00 1343.87,96.65 1344.61,87.28"/>
<polygon points="616.50,405.00 602.51,406.81 604.48,397.62"/>
<polygon points="381.50,167.50 393.97,160.90 395.35,170.20"/>
<polygon points="406.00,326.50 407.97,312.53 416.31,316.87"/>
<polygon points="766.50,250.50 766.44,236.39 775.32,239.49"/>
<polygon points="877.50,166.50 872.80,153.20 882.20,153.20"/>
<polygon points="1084.00,250.50 1070.65,245.94 1076.48,238.56"/>
<polygon points="1359.00,326.50 1345.02,324.60 1349.32,316.24"/>
<polygon points="1415.50,250.50 1401.40,251.05 1404.19,242.07"/>
<polygon points="1784.50,169.50 1770.66,172.24 1772.01,162.94"/>
<polygon points="2005.50,168.50 1991.73,171.55 1992.87,162.22"/>
<polygon points="2005.50,168.50 1991.81,171.92 1992.71,162.56"/>
<polygon points="1645.50,173.00 1631.42,173.78 1634.05,164.76"/>
<polygon points="734.00,402.50 722.02,395.05 729.36,389.18"/>
<polygon points="645.50,402.50 638.64,390.17 647.91,388.60"/>
<polygon points="1059.50,404.00 1045.42,403.07 1049.13,394.43"/>
<polygon points="192.50,250.50 201.37,239.53 206.29,247.54"/>
<polygon points="83.00,402.50 91.16,390.99 96.58,398.68"/>
<polygon points="616.50,405.00 602.60,407.38 604.19,398.11"/>
<polygon points="379.00,250.50 365.96,245.13 372.23,238.12"/>
<polygon points="120.50,402.50 132.43,394.98 134.51,404.15"/>
<polygon points="249.00,402.50 259.39,392.96 263.08,401.61"/>
<polygon points="383.00,402.50 380.10,388.70 389.42,389.94"/>
<polygon points="507.50,402.50 493.55,400.39 497.98,392.09"/>
<polygon points="616.50,404.50 602.42,405.31 605.04,396.28"/>
<polygon points="705.50,404.00 691.47,405.45 693.67,396.31"/>
<polygon points="851.50,405.00 837.67,407.78 839.00,398.47"/>
<polygon points="1059.50,409.00 1045.80,412.35 1046.74,402.99"/>
<polygon points="1881.50,416.00 1867.98,420.01 1868.46,410.63"/>
<polygon points="1059.50,409.00 1045.71,411.95 1046.92,402.63"/>
<polygon points="648.50,402.50 645.33,388.76 654.67,389.81"/>
<polygon points="761.50,326.50 756.80,313.20 766.20,313.20"/>
<polygon points="1059.50,409.00 1045.52,410.88 1047.44,401.68"/>
<polygon points="1421.50,415.00 1407.79,418.33 1408.74,408.98"/>
<polygon points="1881.50,403.00 1867.44,404.19 1869.82,395.09"/>
<polygon points="655.30,402.50 656.16,388.42 664.82,392.09"/>
<polygon points="999.00,326.50 990.04,315.61 998.87,312.39"/>
<polygon points="1881.50,410.00 1867.85,413.57 1868.64,404.21"/>
<polygon points="1024.70,326.50 1029.90,313.39 1036.99,319.57"/>
<polygon points="1891.00,402.50 1877.60,398.09 1883.35,390.65"/>
<polygon points="1035.50,333.50 1047.72,326.46 1049.43,335.70"/>
<polygon points="1135.50,403.00 1147.46,395.52 1149.50,404.69"/>
<polygon points="1458.00,402.50 1453.30,389.20 1462.70,389.20"/>
<polygon points="2075.50,333.00 2061.75,336.16 2062.82,326.82"/>
<polygon points="1901.00,402.50 1890.78,392.77 1899.16,388.51"/>
<polygon points="669.70,402.50 677.81,390.95 683.26,398.61"/>
<polygon points="751.50,402.50 749.25,388.57 758.50,390.26"/>
<polygon points="1881.50,414.00 1867.97,418.01 1868.46,408.62"/>
<polygon points="680.50,404.00 692.19,396.11 694.55,405.21"/>
<polygon points="936.50,402.50 943.13,390.05 949.48,396.98"/>
<polygon points="1881.50,413.00 1867.91,416.78 1868.55,407.40"/>
<polygon points="1421.50,408.50 1407.66,411.23 1409.02,401.93"/>
<polygon points="1119.00,402.50 1124.69,389.59 1131.54,396.04"/>
<polygon points="1135.50,403.00 1147.65,395.83 1149.45,405.06"/>
<polygon points="1444.40,402.50 1432.37,395.13 1439.67,389.21"/>
<polygon points="1881.50,410.00 1867.80,413.37 1868.72,404.02"/>
<polygon points="1099.00,402.50 1095.20,388.92 1104.57,389.54"/>
<polygon points="1679.50,326.50 1666.23,321.72 1672.18,314.44"/>
<polygon points="1492.50,403.50 1503.01,394.09 1506.59,402.78"/>
<polygon points="1881.50,404.00 1867.39,404.08 1870.48,395.20"/>
<polygon points="1698.50,250.50 1688.85,240.21 1697.46,236.43"/>
<polygon points="1816.00,250.50 1801.95,249.26 1805.84,240.71"/>
<polygon points="1106.50,402.50 1102.88,388.87 1112.25,389.62"/>
<polygon points="1946.50,412.00 1959.20,405.86 1960.24,415.20"/>
<polygon points="1240.00,326.50 1246.95,314.22 1253.12,321.32"/>
<polygon points="1730.50,250.50 1739.32,239.49 1744.28,247.47"/>
<polygon points="2087.00,326.50 2073.17,323.71 2078.00,315.64"/>
<polygon points="2042.80,250.50 2028.93,247.92 2033.63,239.78"/>
<polygon points="1946.50,411.00 1958.97,404.40 1960.35,413.70"/>
<polygon points="1765.50,251.50 1777.73,244.48 1779.43,253.72"/>
<polygon points="1885.50,250.50 1896.42,241.57 1899.61,250.41"/>
<polygon points="2075.50,326.50 2061.72,323.50 2066.67,315.50"/>
<polygon points="2081.00,250.50 2076.30,237.20 2085.70,237.20"/>
<polygon points="2229.60,250.50 2215.58,248.92 2219.69,240.46"/>
<polygon points="2345.00,250.50 2330.94,251.61 2333.37,242.52"/>
<polygon points="2745.00,326.50 2731.14,323.85 2735.89,315.73"/>
<polygon points="2621.00,326.50 2609.85,317.86 2617.75,312.77"/>
<polygon points="1946.50,413.00 1959.57,407.70 1960.00,417.09"/>
<polygon points="1479.00,402.50 1487.86,391.53 1492.79,399.53"/>
<polygon points="1908.70,326.50 1894.61,327.18 1897.31,318.17"/>
<polygon points="2075.50,331.00 2061.73,334.07 2062.86,324.74"/>
<polygon points="1905.00,402.50 1897.14,390.78 1906.25,388.45"/>
<polygon points="1937.00,326.50 1923.38,322.84 1928.70,315.09"/>
<polygon points="2075.50,328.60 2061.42,329.49 2063.99,320.45"/>
<polygon points="1946.50,402.60 1957.32,393.55 1960.60,402.36"/>
<polygon points="1135.50,412.00 1148.42,406.33 1149.11,415.70"/>
<polygon points="1923.00,402.50 1923.80,388.42 1932.47,392.05"/>
<polygon points="2103.60,326.50 2095.02,315.30 2103.97,312.40"/>
<polygon points="1946.50,410.00 1958.97,403.40 1960.35,412.70"/>
<polygon points="2136.00,326.50 2145.77,316.33 2149.99,324.73"/>
<polygon points="1946.50,411.00 1958.97,404.40 1960.35,413.70"/>
<polygon points="2144.50,330.00 2156.18,322.09 2158.56,331.19"/>
<polygon points="1946.50,412.00 1958.97,405.40 1960.35,414.70"/>
<polygon points="1946.50,414.00 1959.31,408.09 1960.18,417.45"/>
<polygon points="1946.50,415.00 1959.53,409.60 1960.03,418.98"/>
</g>
</svg></body></html>
